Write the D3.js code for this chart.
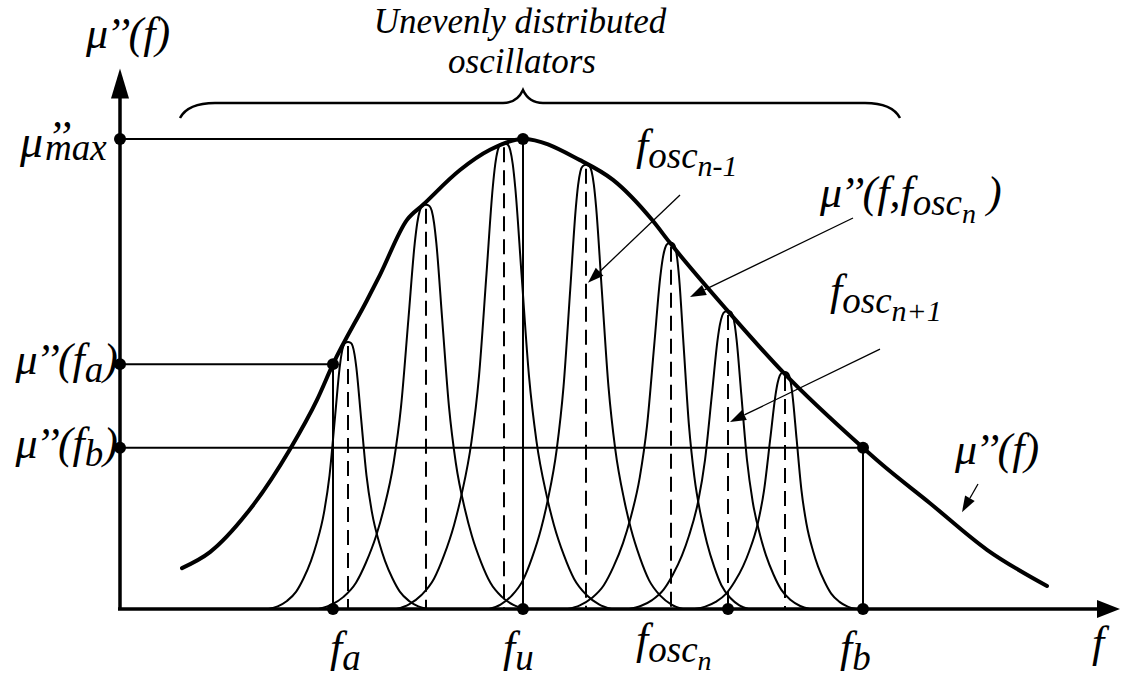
<!DOCTYPE html>
<html>
<head>
<meta charset="utf-8">
<script src="https://cdn.jsdelivr.net/npm/d3@7"></script>
<style>
  body { margin: 0; background: #fff; }
</style>
</head>
<body>
<svg id="chart" width="1121" height="679"></svg>
<script>
// Envelope μ''(f): frequency (arbitrary units) and loss level (normalised to μ''max)
const envelopeF  = [0.62, 0.90, 1.27, 1.70, 1.97, 2.13, 2.47, 2.60, 2.87, 3.03, 3.40, 3.70, 4.03,
                    4.60, 4.93, 5.32, 5.50, 6.07, 6.63, 7.43, 7.60, 8.10, 8.67, 9.27];
const envelopeMu = [0.087, 0.121, 0.204, 0.340, 0.445, 0.521, 0.657, 0.711, 0.828, 0.860, 0.934, 0.977, 1.000,
                    0.955, 0.913, 0.828, 0.779, 0.636, 0.504, 0.343, 0.311, 0.225, 0.126, 0.049];

// Individual oscillators: resonance frequency, peak level, half-widths on each side
const peakF          = [2.28, 3.06, 3.84, 4.66, 5.51, 6.08, 6.65];
const peakMu         = [0.568, 0.860, 0.991, 0.945, 0.779, 0.634, 0.504];
const peakWidthLeft  = [0.185, 0.25, 0.25, 0.225, 0.24, 0.23, 0.21];
const peakWidthRight = [0.185, 0.23, 0.25, 0.225, 0.18, 0.19, 0.165];

// Normalised resonance line shape (right half): offset in half-widths, relative level
const profileOffset = [0, 0.15, 0.25, 0.35, 0.45, 0.7, 1.0, 1.3, 1.7, 2.0, 2.4, 2.8, 3.3, 3.8, 4.3];
const profileLevel  = [1, 0.997, 0.985, 0.955, 0.905, 0.72, 0.5, 0.36, 0.245, 0.18, 0.115, 0.065, 0.03, 0.01, 0];

// Marked frequencies and levels
const markF  = { fa: 2.13, fu: 4.03, fosc: 6.08, fb: 7.43 };
const markMu = { fa: 0.521, max: 1.0, fb: 0.343 };

// Axis extents
const fExtent  = [0, 10];
const muExtent = [0, 1.15];

const svg = d3.select("#chart");
const x = d3.scaleLinear().domain([0, 10]).range([120, 1120]);
const y = d3.scaleLinear().domain([0, 1]).range([609, 139]);

// ---- oscillator peaks ----
const peakLine = d3.line().x(d => x(d[0])).y(d => y(d[1])).curve(d3.curveMonotoneX);
const gPeaks = svg.append("g").attr("fill", "none").attr("stroke", "#000").attr("stroke-width", 2);
peakF.forEach((c, i) => {
  const pts = [];
  for (let k = profileOffset.length - 1; k > 0; k--)
    pts.push([c - profileOffset[k] * peakWidthLeft[i], peakMu[i] * profileLevel[k]]);
  for (let k = 0; k < profileOffset.length; k++)
    pts.push([c + profileOffset[k] * peakWidthRight[i], peakMu[i] * profileLevel[k]]);
  gPeaks.append("path").attr("d", peakLine(pts));
});

// dashed centre lines of the oscillators
svg.append("g").attr("stroke", "#000").attr("stroke-width", 2).attr("stroke-dasharray", "15,8")
  .selectAll("line").data(peakF.map((f, i) => [f, peakMu[i]])).join("line")
  .attr("x1", d => x(d[0])).attr("x2", d => x(d[0]))
  .attr("y1", d => y(d[1]) + 4).attr("y2", y(0));

// ---- guide lines ----
const gGuide = svg.append("g").attr("stroke", "#000").attr("stroke-width", 2);
[[markF.fu, markMu.max], [markF.fa, markMu.fa], [markF.fb, markMu.fb]].forEach(([f, m]) => {
  gGuide.append("line").attr("x1", x(0)).attr("x2", x(f)).attr("y1", y(m)).attr("y2", y(m));
  gGuide.append("line").attr("x1", x(f)).attr("x2", x(f)).attr("y1", y(m)).attr("y2", y(0));
});

// ---- envelope ----
const envLine = d3.line().x(d => x(d[0])).y(d => y(d[1])).curve(d3.curveMonotoneX);
svg.append("path")
  .attr("d", envLine(envelopeF.map((f, i) => [f, envelopeMu[i]])))
  .attr("fill", "none").attr("stroke", "#000").attr("stroke-width", 4).attr("stroke-linecap", "round");

// ---- axes ----
const gAxis = svg.append("g");
gAxis.append("line").attr("x1", x(0)).attr("x2", x(0)).attr("y1", y(0)).attr("y2", y(muExtent[1]) + 20)
  .attr("stroke", "#000").attr("stroke-width", 3.5);
gAxis.append("line").attr("x1", x(0) - 2).attr("x2", x(fExtent[1]) - 20).attr("y1", y(0)).attr("y2", y(0))
  .attr("stroke", "#000").attr("stroke-width", 3.5);
const yTip = y(muExtent[1]);
gAxis.append("path").attr("d", `M${x(0)},${yTip} L${x(0) - 9},${yTip + 30} L${x(0) + 9},${yTip + 30} Z`);
const xTip = x(fExtent[1]);
gAxis.append("path").attr("d", `M${xTip},${y(0)} L${xTip - 23},${y(0) - 9} L${xTip - 23},${y(0) + 9} Z`);

// ---- dots ----
const dots = [
  [0, markMu.max], [0, markMu.fa], [0, markMu.fb],
  [markF.fu, markMu.max], [markF.fa, markMu.fa], [markF.fb, markMu.fb],
  [markF.fa, 0], [markF.fu, 0], [markF.fosc, 0], [markF.fb, 0]
];
svg.append("g").selectAll("circle").data(dots).join("circle")
  .attr("cx", d => x(d[0])).attr("cy", d => y(d[1])).attr("r", 6).attr("fill", "#000");

// ---- brace over the oscillators ----
const braceL = x(0.6), braceR = x(7.8), braceC = x(markF.fu), bTop = 103, bEnd = 118;
svg.append("path")
  .attr("d", `M${braceL},${bEnd} Q${braceL + 8},${bTop} ${braceL + 35},${bTop} L${braceC - 20},${bTop}
              Q${braceC - 6},${bTop} ${braceC},${bTop - 13} Q${braceC + 6},${bTop} ${braceC + 20},${bTop}
              L${braceR - 35},${bTop} Q${braceR - 8},${bTop} ${braceR},${bEnd}`)
  .attr("fill", "none").attr("stroke", "#000").attr("stroke-width", 2.5);

// ---- annotation arrows (data coordinates) ----
function arrow(f1, m1, f2, m2) {
  const x1 = x(f1), y1 = y(m1), x2 = x(f2), y2 = y(m2);
  const a = Math.atan2(y2 - y1, x2 - x1), L = 16, W = 5.5;
  const bx = x2 - L * Math.cos(a), by = y2 - L * Math.sin(a);
  svg.append("line").attr("x1", x1).attr("y1", y1).attr("x2", bx).attr("y2", by)
    .attr("stroke", "#000").attr("stroke-width", 1.3);
  svg.append("path").attr("d",
    `M${x2},${y2} L${bx + W * Math.sin(a)},${by - W * Math.cos(a)} L${bx - W * Math.sin(a)},${by + W * Math.cos(a)} Z`);
}
arrow(5.60, 0.881, 4.68, 0.694);
arrow(7.33, 0.832, 5.70, 0.664);
arrow(7.60, 0.553, 6.10, 0.398);
arrow(8.58, 0.266, 8.42, 0.206);

// ---- labels ----
function label(px, py, parts, anchor) {
  const t = svg.append("text").attr("x", px).attr("y", py).attr("text-anchor", anchor || "start")
    .style("font-family", "'Liberation Serif', 'Times New Roman', serif").style("font-style", "italic");
  parts.forEach(p => {
    const s = t.append("tspan").attr("font-size", p.s).text(p.t);
    if (p.dy) s.attr("dy", p.dy);
    if (p.dx) s.attr("dx", p.dx);
  });
  return t;
}
const B = 44, S = 37, SS = 30;
const mu2 = [{ t: "μ", s: B }, { t: "’’", s: B, dx: -2 }];

label(86, 48, [...mu2, { t: "(f)", s: B, dx: -2 }]);
label(20, 157, [{ t: "μ", s: B + 2 }]);
label(47, 151, [{ t: "’’", s: B }]);
label(45, 160, [{ t: "max", s: S }]);
label(118, 374, [...mu2, { t: "(f", s: B, dx: -2 }, { t: "a", s: S, dy: 8 }, { t: ")", s: B, dy: -8 }], "end");
label(118, 458, [...mu2, { t: "(f", s: B, dx: -2 }, { t: "b", s: S, dy: 8 }, { t: ")", s: B, dy: -8 }], "end");

label(520, 33, [{ t: "Unevenly distributed", s: 35 }], "middle");
label(522, 73, [{ t: "oscillators", s: 35 }], "middle");

label(636, 160, [{ t: "f", s: B }, { t: "osc", s: S, dy: 8 }, { t: "n-1", s: SS, dy: 8 }]);
label(820, 207, [...mu2, { t: "(f,f", s: B, dx: -2 }, { t: "osc", s: S, dy: 8 }, { t: "n", s: SS - 2, dy: 8 }, { t: " )", s: B, dy: -16 }]);
label(830, 305, [{ t: "f", s: B }, { t: "osc", s: S, dy: 8 }, { t: "n+1", s: SS, dy: 8 }]);
label(955, 464, [...mu2, { t: "(f)", s: B, dx: -2 }]);

label(330, 662, [{ t: "f", s: B }, { t: "a", s: S, dy: 8 }]);
label(503, 662, [{ t: "f", s: B }, { t: "u", s: S, dy: 8 }]);
label(636, 654, [{ t: "f", s: B }, { t: "osc", s: S, dy: 8 }, { t: "n", s: SS - 2, dy: 8 }]);
label(840, 662, [{ t: "f", s: B }, { t: "b", s: S, dy: 8 }]);
label(1092, 657, [{ t: "f", s: B }]);
</script>
</body>
</html>
